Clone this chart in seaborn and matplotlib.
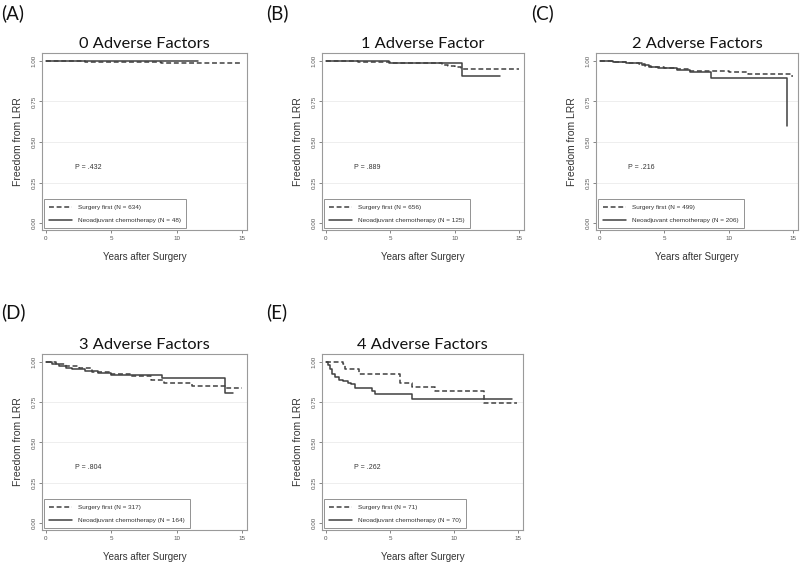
import matplotlib
matplotlib.use("Agg")
import matplotlib.pyplot as plt
import seaborn as sns
import pandas as pd

# ---------------- data ----------------
panel_labels = ["(A)", "(B)", "(C)", "(D)", "(E)"]
titles = ["0 Adverse Factors", "1 Adverse Factor", "2 Adverse Factors",
          "3 Adverse Factors", "4 Adverse Factors"]
p_values = ["P = .432", "P = .889", "P = .216", "P = .804", "P = .262"]
n_surgery = [634, 656, 499, 317, 71]
n_neo = [48, 125, 206, 164, 70]

x_ticks = [0, 5, 10, 15]
y_ticks = [0.0, 0.25, 0.5, 0.75, 1.0]
y_tick_labels = ["0.00", "0.25", "0.50", "0.75", "1.00"]

# Surgery first (dashed) step curves
A_sf_t = [0, 3.0, 8.8, 15.0]
A_sf_s = [1.0, 0.995, 0.986, 0.986]
B_sf_t = [0, 2.5, 5.0, 8.0, 9.0, 9.5, 10.0, 10.5, 15.0]
B_sf_s = [1.0, 0.995, 0.99, 0.985, 0.975, 0.97, 0.96, 0.953, 0.953]
C_sf_t = [0, 1.0, 2.0, 3.0, 3.5, 4.0, 5.0, 6.0, 7.0, 8.5, 10.0, 11.5, 14.8, 15.0]
C_sf_s = [1.0, 0.993, 0.988, 0.98, 0.97, 0.96, 0.955, 0.95, 0.94, 0.935, 0.93, 0.918, 0.905, 0.905]
D_sf_t = [0, 0.8, 1.5, 2.5, 3.5, 5.0, 6.5, 8.0, 9.0, 11.2, 13.8, 15.0]
D_sf_s = [1.0, 0.99, 0.975, 0.96, 0.94, 0.925, 0.91, 0.885, 0.872, 0.852, 0.835, 0.835]
E_sf_t = [0, 1.3, 1.5, 2.6, 5.8, 6.7, 8.5, 12.3, 14.9]
E_sf_s = [1.0, 0.984, 0.955, 0.922, 0.87, 0.844, 0.819, 0.747, 0.747]

# Neoadjuvant chemotherapy (solid) step curves
A_nc_t = [0, 11.6]
A_nc_s = [1.0, 1.0]
B_nc_t = [0, 4.9, 10.6, 13.5]
B_nc_s = [1.0, 0.99, 0.907, 0.907]
C_nc_t = [0, 1.0, 2.0, 2.8, 3.3, 3.8, 4.5, 6.0, 7.0, 8.6, 14.5]
C_nc_s = [1.0, 0.993, 0.988, 0.985, 0.972, 0.962, 0.955, 0.945, 0.93, 0.895, 0.597]
D_nc_t = [0, 0.5, 1.0, 1.5, 2.0, 3.0, 4.0, 5.0, 8.9, 13.7, 14.3]
D_nc_s = [1.0, 0.99, 0.975, 0.965, 0.955, 0.942, 0.934, 0.918, 0.90, 0.81, 0.81]
E_nc_t = [0, 0.2, 0.35, 0.5, 0.7, 1.0, 1.3, 1.7, 2.0, 2.3, 3.6, 3.8, 6.7, 14.5]
E_nc_s = [1.0, 0.98, 0.955, 0.925, 0.905, 0.89, 0.88, 0.87, 0.86, 0.84, 0.82, 0.80, 0.767, 0.767]

sf_curves = [(A_sf_t, A_sf_s), (B_sf_t, B_sf_s), (C_sf_t, C_sf_s), (D_sf_t, D_sf_s), (E_sf_t, E_sf_s)]
nc_curves = [(A_nc_t, A_nc_s), (B_nc_t, B_nc_s), (C_nc_t, C_nc_s), (D_nc_t, D_nc_s), (E_nc_t, E_nc_s)]

# ---------------- layout (pixels) ----------------
W, H = 800, 565
boxes = [(42, 53, 247, 230), (322, 53, 524, 230), (596, 53, 798, 230),
         (42, 354, 247, 530), (322, 354, 523, 530)]
label_pos = [(1, 13), (266, 13), (531, 13), (1, 312), (266, 312)]

sns.set_theme(style="white")
plt.rcParams["font.family"] = ["Liberation Sans", "DejaVu Sans"]

fig = plt.figure(figsize=(W / 100, H / 100), dpi=100)
fig.patch.set_facecolor("white")

line_color = "#404040"
for i in range(5):
    l, t, r, b = boxes[i]
    ax = fig.add_axes([l / W, 1 - b / H, (r - l) / W, (b - t) / H])
    ax.set_facecolor("white")
    st, ss = sf_curves[i]
    nt, ns = nc_curves[i]
    sns.lineplot(x=st, y=ss, ax=ax, drawstyle="steps-post", color=line_color,
                 linewidth=1.1, linestyle=(0, (3.2, 1.8)),
                 label=f"Surgery first (N = {n_surgery[i]})", estimator=None)
    sns.lineplot(x=nt, y=ns, ax=ax, drawstyle="steps-post", color=line_color,
                 linewidth=1.1, label=f"Neoadjuvant chemotherapy (N = {n_neo[i]})",
                 estimator=None)
    ax.set_xlim(-0.3, 15.38)
    ax.set_ylim(-0.043, 1.049)
    ax.set_xticks(x_ticks)
    ax.set_xticklabels([str(v) for v in x_ticks])
    ax.set_yticks(y_ticks)
    ax.set_yticklabels(y_tick_labels, rotation=90, va="center")
    ax.tick_params(axis="both", labelsize=4.5, colors="#555555", length=2.5,
                   width=0.5, direction="out", pad=1.5)
    ax.tick_params(axis="x", bottom=True)
    ax.tick_params(axis="y", left=True)
    for yv in [0.25, 0.5, 0.75]:
        ax.axhline(yv, color="#eeeeee", linewidth=0.7, zorder=0)
    for sp in ax.spines.values():
        sp.set_color("#9a9a9a")
        sp.set_linewidth(0.8)
    ax.set_xlabel("Years after Surgery", fontsize=7, color="#333333", labelpad=8)
    ax.set_ylabel("Freedom from LRR", fontsize=7.5, color="#333333", labelpad=6)
    ax.set_title(titles[i], fontsize=11.8, family=["Lato", "DejaVu Sans"],
                 color="#111111", pad=3.5)
    ax.text(2.2, 0.345, p_values[i], fontsize=5, color="#333333", va="center")
    leg = ax.legend(loc="lower left", bbox_to_anchor=(0.008, 0.01), borderaxespad=0,
                    fontsize=4.6, frameon=True, fancybox=False, handlelength=3.6,
                    labelspacing=1.2, borderpad=0.8, handletextpad=1.0)
    leg.get_frame().set_edgecolor("#777777")
    leg.get_frame().set_linewidth(0.7)
    for txt in leg.get_texts():
        txt.set_color("#333333")

for i in range(5):
    x, y = label_pos[i]
    fig.text(x / W, 1 - y / H, panel_labels[i], fontsize=13.5,
             family=["Lato", "DejaVu Sans"], va="center", ha="left", color="#111111")

fig.savefig("out.png", dpi=100, facecolor="white")
